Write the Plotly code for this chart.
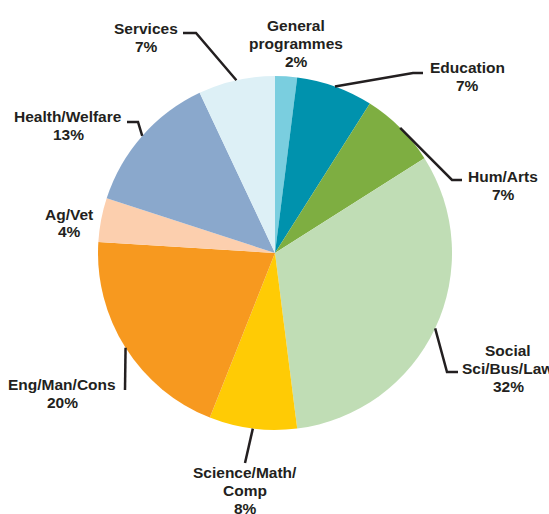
import math
import plotly.graph_objects as go

# Share of tertiary graduates by field of study (%)
fields = ["General programmes", "Education", "Hum/Arts", "Social Sci/Bus/Law",
          "Science/Math/Comp", "Eng/Man/Cons", "Ag/Vet", "Health/Welfare", "Services"]
shares = [2, 7, 7, 32, 8, 20, 4, 13, 7]
label_lines = [["General", "programmes"], ["Education"], ["Hum/Arts"],
               ["Social", "Sci/Bus/Law"], ["Science/Math/", "Comp"],
               ["Eng/Man/Cons"], ["Ag/Vet"], ["Health/Welfare"], ["Services"]]
colors = ["#7ACEDF", "#0092AD", "#7EAE41", "#C0DDB5", "#FFCB05",
          "#F7991F", "#FCCFAE", "#8AA8CC", "#DDF0F6"]

W, H = 549, 514
CX, CY, R = 275, 253, 177          # pie centre and radius in pixels
INK = "#231F20"
FONT = dict(family="Liberation Sans, Arial, sans-serif", size=15.5, color=INK)
LINE_GAP = 18

# Label layout: text centre (x, first-line y) and leader-line bend points (pixels)
label_layout = {
    "General programmes": dict(text=(296, 25), path=[]),
    "Education": dict(text=(468, 68), path=[(413, 73), (423, 73)]),
    "Hum/Arts": dict(text=(503, 176), path=[(452, 180), (462, 180)]),
    "Social Sci/Bus/Law": dict(text=(508, 350), path=[(447, 372), (458, 372)]),
    "Science/Math/Comp": dict(text=(245, 472), path=[(245, 463)]),
    "Eng/Man/Cons": dict(text=(62, 384), path=[(125, 390)]),
    "Ag/Vet": dict(text=(69, 214), path=[]),
    "Health/Welfare": dict(text=(68, 117), path=[(138, 122), (127, 122)]),
    "Services": dict(text=(146, 28), path=[(196, 33), (183, 33)]),
}


def px(x):
    return x / W


def py(y):
    return 1 - y / H


fig = go.Figure(go.Pie(
    labels=fields,
    values=shares,
    marker=dict(colors=colors, line=dict(width=0)),
    sort=False,
    direction="clockwise",
    rotation=0,
    textinfo="none",
    hoverinfo="label+percent",
    showlegend=False,
    domain=dict(x=[px(CX - R), px(CX + R)], y=[py(CY + R), py(CY - R)]),
))

annotations = []
shapes = []
total = sum(shares)
cum = 0
for name, val, lines in zip(fields, shares, label_lines):
    mid = (cum + val / 2) / total * 2 * math.pi
    cum += val
    lay = label_layout[name]
    tx, ty = lay["text"]
    for i, txt in enumerate(lines + [f"{val}%"]):
        annotations.append(dict(
            x=px(tx), y=py(ty + i * LINE_GAP), xref="paper", yref="paper",
            text=f"<b>{txt}</b>", showarrow=False, font=FONT,
            xanchor="center", yanchor="middle",
        ))
    if lay["path"]:
        ex, ey = CX + R * math.sin(mid), CY - R * math.cos(mid)
        pts = [(ex, ey)] + lay["path"]
        d = "M " + " L ".join(f"{px(x):.5f},{py(y):.5f}" for x, y in pts)
        shapes.append(dict(type="path", path=d, xref="paper", yref="paper",
                           line=dict(color=INK, width=2.5)))

fig.update_layout(
    width=W, height=H,
    margin=dict(l=0, r=0, t=0, b=0),
    paper_bgcolor="white",
    plot_bgcolor="white",
    annotations=annotations,
    shapes=shapes,
)

fig.write_html("out.html")
